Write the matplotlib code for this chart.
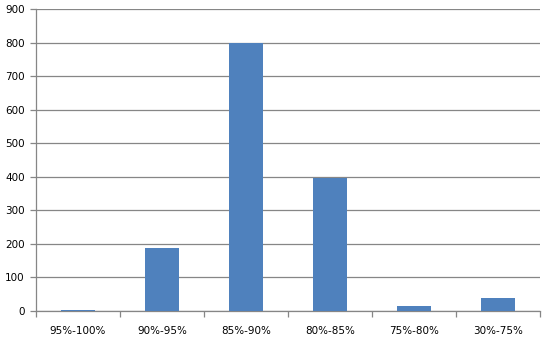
import matplotlib
matplotlib.use("Agg")
import matplotlib.pyplot as plt
import numpy as np

categories = ["95%-100%", "90%-95%", "85%-90%", "80%-85%", "75%-80%", "30%-75%"]
values = [3, 188, 800, 396, 15, 39]
yticks = [0, 100, 200, 300, 400, 500, 600, 700, 800, 900]

W, H = 553, 340
fig = plt.figure(figsize=(W / 100, H / 100), dpi=100)
ax = fig.add_axes([36 / W, (H - 311) / H, (540 - 36) / W, (311 - 9) / H])

x = np.arange(len(categories))
ax.bar(x, values, width=0.4, color="#4F81BD", zorder=3)

grid_c = "#868686"
ax.set_ylim(0, 900)
ax.set_xlim(-0.5, len(categories) - 0.5)
ax.set_yticks(yticks)
ax.set_yticklabels([str(v) for v in yticks])
ax.yaxis.grid(True, color=grid_c, linewidth=0.9, zorder=0)
ax.set_axisbelow(True)

ax.set_xticks(x)
ax.set_xticklabels(categories)
ax.set_xticks(np.arange(len(categories) + 1) - 0.5, minor=True)
ax.tick_params(axis="x", which="major", length=0, pad=10.5, labelsize=7.5, colors="black")
ax.tick_params(axis="x", which="minor", length=4, color=grid_c, width=0.9)
ax.tick_params(axis="y", length=4, color=grid_c, width=0.9, pad=4, labelsize=7.5, labelcolor="black")

for s in ["top", "right"]:
    ax.spines[s].set_visible(False)
for s in ["left", "bottom"]:
    ax.spines[s].set_color(grid_c)
    ax.spines[s].set_linewidth(0.9)

fig.savefig("out.png", dpi=100, facecolor="white")
